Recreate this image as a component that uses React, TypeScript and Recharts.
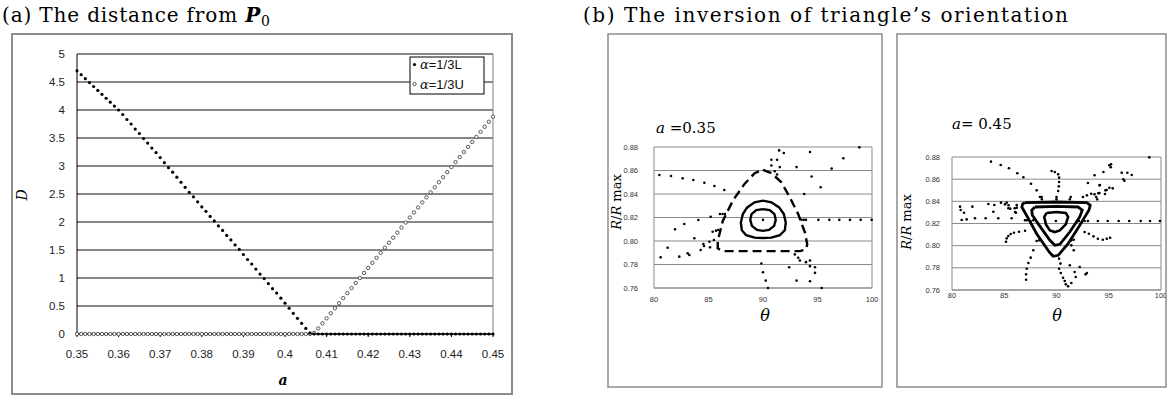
import React from 'react';
import { ScatterChart, Scatter, XAxis, YAxis, CartesianGrid, ReferenceLine } from 'recharts';

// ---------- panel (a): distance D against a ----------
const aValues = [
  0.35, 0.351, 0.352, 0.353, 0.354, 0.355, 0.356, 0.357, 0.358, 0.359,
  0.36, 0.361, 0.362, 0.363, 0.364, 0.365, 0.366, 0.367, 0.368, 0.369,
  0.37, 0.371, 0.372, 0.373, 0.374, 0.375, 0.376, 0.377, 0.378, 0.379,
  0.38, 0.381, 0.382, 0.383, 0.384, 0.385, 0.386, 0.387, 0.388, 0.389,
  0.39, 0.391, 0.392, 0.393, 0.394, 0.395, 0.396, 0.397, 0.398, 0.399,
  0.4, 0.401, 0.402, 0.403, 0.404, 0.405, 0.406, 0.407, 0.408, 0.409,
  0.41, 0.411, 0.412, 0.413, 0.414, 0.415, 0.416, 0.417, 0.418, 0.419,
  0.42, 0.421, 0.422, 0.423, 0.424, 0.425, 0.426, 0.427, 0.428, 0.429,
  0.43, 0.431, 0.432, 0.433, 0.434, 0.435, 0.436, 0.437, 0.438, 0.439,
  0.44, 0.441, 0.442, 0.443, 0.444, 0.445, 0.446, 0.447, 0.448, 0.449,
  0.45,
];

// alpha = 1/3 L (filled dots)
const distL = [
  4.7, 4.63, 4.56, 4.49, 4.42, 4.35, 4.28, 4.21, 4.14, 4.07,
  4.0, 3.92, 3.83, 3.75, 3.66, 3.58, 3.49, 3.41, 3.32, 3.24,
  3.15, 3.06, 2.97, 2.89, 2.8, 2.71, 2.62, 2.53, 2.45, 2.36,
  2.27, 2.19, 2.1, 2.02, 1.93, 1.85, 1.76, 1.68, 1.59, 1.51,
  1.42, 1.33, 1.25, 1.16, 1.07, 0.99, 0.9, 0.81, 0.73, 0.64,
  0.55, 0.46, 0.37, 0.28, 0.19, 0.1, 0.02, 0, 0, 0,
  0, 0, 0, 0, 0, 0, 0, 0, 0, 0,
  0, 0, 0, 0, 0, 0, 0, 0, 0, 0,
  0, 0, 0, 0, 0, 0, 0, 0, 0, 0,
  0, 0, 0, 0, 0, 0, 0, 0, 0, 0,
  0,
];

// alpha = 1/3 U (open circles)
const distU = [
  0, 0, 0, 0, 0, 0, 0, 0, 0, 0,
  0, 0, 0, 0, 0, 0, 0, 0, 0, 0,
  0, 0, 0, 0, 0, 0, 0, 0, 0, 0,
  0, 0, 0, 0, 0, 0, 0, 0, 0, 0,
  0, 0, 0, 0, 0, 0, 0, 0, 0, 0,
  0, 0, 0, 0, 0, 0, 0, 0.02, 0.1, 0.19,
  0.28, 0.37, 0.46, 0.55, 0.64, 0.73, 0.82, 0.91, 1.0, 1.09,
  1.18, 1.27, 1.36, 1.45, 1.54, 1.63, 1.72, 1.81, 1.9, 1.99,
  2.08, 2.17, 2.26, 2.35, 2.44, 2.53, 2.62, 2.71, 2.8, 2.89,
  2.98, 3.07, 3.16, 3.25, 3.34, 3.43, 3.52, 3.61, 3.7, 3.79,
  3.88,
];

const aTicks = [0.35, 0.36, 0.37, 0.38, 0.39, 0.4, 0.41, 0.42, 0.43, 0.44, 0.45];
const dTicks = [0, 0.5, 1, 1.5, 2, 2.5, 3, 3.5, 4, 4.5, 5];

// ---------- panel (b): sections, theta vs R/Rmax ----------
const thetaTicks = [80, 85, 90, 95, 100];
const ratioTicks = [0.76, 0.78, 0.8, 0.82, 0.84, 0.86, 0.88];

// a = 0.35
const dots035: [number, number][] = [
  [80.49, 0.8562], [81.56, 0.8553], [82.63, 0.8533], [83.61, 0.8519], [84.62, 0.8496], [85.54, 0.8468], [86.45, 0.8434],
  [81.93, 0.8099], [82.78, 0.8145], [84.07, 0.8179], [85.2, 0.8207], [86.05, 0.823], [86.3, 0.823], [86.51, 0.823],
  [81.25, 0.7943], [80.61, 0.7861], [82.32, 0.7867], [83.09, 0.7895], [83.24, 0.7881], [83.7, 0.8023], [84.28, 0.7923],
  [84.59, 0.7957], [84.53, 0.7975], [85.14, 0.7946], [85.08, 0.7994], [85.5, 0.8009], [85.38, 0.8079], [85.69, 0.8088], [85.9, 0.8094],
  [91.48, 0.8771], [91.91, 0.8749], [94.31, 0.8757], [90.77, 0.8691], [91.29, 0.8691], [93.08, 0.8629], [90.77, 0.8643],
  [91.08, 0.8594], [91.54, 0.8629], [91.29, 0.8566],
  [93.78, 0.84], [95.29, 0.8457], [94.46, 0.8549], [96.3, 0.8616], [97.37, 0.8704], [98.84, 0.8797],
  [90, 0.818], [93.54, 0.818], [93.74, 0.818], [93.94, 0.818], [95.08, 0.818], [96.09, 0.818], [97.0, 0.818],
  [97.98, 0.818], [98.96, 0.818], [99.97, 0.818],
  [89.85, 0.7809], [90.0, 0.7734], [90.25, 0.7663], [90.46, 0.76], [92.4, 0.7777], [93.08, 0.7663], [92.92, 0.7886],
  [93.23, 0.7857], [93.38, 0.7834], [93.94, 0.782], [94.31, 0.7834], [94.31, 0.7786], [94.77, 0.7777], [94.77, 0.7729],
  [94.31, 0.7657], [95.38, 0.76],
];

const innerLoop035: [number, number][] = [
  [90, 0.8271], [90.62, 0.8263], [91.05, 0.8229], [91.17, 0.818], [91.02, 0.8129], [90.55, 0.8094], [90, 0.8086],
  [89.45, 0.8094], [88.98, 0.8129], [88.83, 0.818], [88.95, 0.8229], [89.38, 0.8263], [90, 0.8271],
];

const midLoop035: [number, number][] = [
  [90, 0.8343], [90.77, 0.8329], [91.48, 0.8286], [91.91, 0.8229], [92.09, 0.8157], [92.0, 0.8091], [91.54, 0.8049],
  [90.77, 0.8029], [90, 0.8026], [89.23, 0.8029], [88.46, 0.8049], [88.06, 0.8091], [87.97, 0.8157], [88.15, 0.8229],
  [88.55, 0.8286], [89.23, 0.8329], [90, 0.8343],
];

const dashedLoop035: [number, number][] = [
  [90, 0.8606], [90.77, 0.8577], [91.69, 0.85], [92.46, 0.8371], [93.23, 0.8229], [93.85, 0.8071], [94.06, 0.7971],
  [93.94, 0.7929], [93.38, 0.7914], [90, 0.7914], [86.31, 0.7914], [85.85, 0.7937], [85.85, 0.8], [86.31, 0.8171],
  [87.23, 0.8343], [88.31, 0.8486], [89.23, 0.8577], [90, 0.8606],
];

// a = 0.45
const dots045: [number, number][] = [
  [83.73, 0.8758], [84.66, 0.8728], [85.45, 0.8698], [86.25, 0.8653], [86.83, 0.8617], [87.56, 0.8559], [88.1, 0.8499], [88.58, 0.8439],
  [89.53, 0.8674], [89.84, 0.8665], [90.16, 0.8644], [90.25, 0.8614], [90.25, 0.8574], [90.22, 0.8535], [90.16, 0.8493],
  [80.77, 0.8352], [80.83, 0.8322], [81.15, 0.8297], [80.93, 0.8231], [81.4, 0.8237], [81.95, 0.8352], [82.2, 0.8247],
  [83.22, 0.8247], [83.48, 0.8376], [84.05, 0.8367], [83.96, 0.8306], [84.43, 0.8247], [84.69, 0.8388], [85.07, 0.8373],
  [85.23, 0.8388], [85.39, 0.8337], [85.71, 0.8247], [86.0, 0.8337], [86.19, 0.8367], [86.12, 0.8297], [85.41, 0.8364],
  [85.57, 0.8334], [86.04, 0.8304], [86.2, 0.8343], [86.99, 0.8229], [87.15, 0.8229],
  [85.17, 0.8036], [85.23, 0.8066], [85.39, 0.8087], [85.62, 0.8105], [85.93, 0.8117], [86.41, 0.8126], [86.99, 0.8135],
  [87.78, 0.7958], [87.53, 0.7892], [87.31, 0.7844], [87.15, 0.7792], [87.09, 0.7741], [87.09, 0.7693],
  [90.25, 0.7883], [90.38, 0.7838], [90.25, 0.7792], [90.41, 0.7753], [90.63, 0.7711], [90.79, 0.7681], [90.89, 0.7651],
  [91.11, 0.7633], [91.42, 0.7663],
  [91.27, 0.7823], [91.74, 0.7762], [91.84, 0.7717], [92.22, 0.7808], [92.78, 0.7741], [92.91, 0.7753], [91.65, 0.7958], [91.42, 0.8003],
  [92.69, 0.8123], [93.1, 0.8108], [93.54, 0.8084], [93.96, 0.8063], [94.43, 0.8054], [94.81, 0.8063], [95.13, 0.8072],
  [89.94, 0.8223], [92.69, 0.8223], [93.0, 0.8223], [93.96, 0.8223], [94.9, 0.8223], [95.95, 0.8223], [96.96, 0.8223],
  [98.06, 0.8223], [98.95, 0.8223], [99.9, 0.8223],
  [93.01, 0.8565], [93.64, 0.8635], [94.11, 0.8544], [94.68, 0.8499], [95.06, 0.8523], [94.49, 0.8665], [95.06, 0.8725],
  [95.22, 0.8734], [95.19, 0.8707], [96.24, 0.8658], [96.78, 0.8658], [97.2, 0.8638], [96.4, 0.8599], [96.49, 0.8586],
  [95.38, 0.8517], [94.8, 0.8502], [94.16, 0.8547], [98.88, 0.8797],
  [92.53, 0.8439], [92.91, 0.8454], [93.32, 0.8469], [93.64, 0.8463], [93.8, 0.8439], [94.11, 0.8475], [94.64, 0.8466],
  [94.0, 0.8472], [93.9, 0.8418],
  [88.42, 0.8439], [88.6, 0.8418], [90, 0.8439], [90, 0.8418], [91.36, 0.8439], [91.27, 0.8418], [87.78, 0.8229],
  [87.53, 0.822], [88.35, 0.8048], [88.1, 0.8042], [91.42, 0.8048], [91.65, 0.8054], [91.9, 0.8214], [92.15, 0.8223],
];

const outerLoop045: [number, number][] = [
  [86.99, 0.8388], [90, 0.8394], [92.91, 0.8388], [93.23, 0.8364], [93.1, 0.8319], [92.22, 0.8183], [91.11, 0.8018],
  [90.16, 0.7913], [89.68, 0.7904], [89.3, 0.7943], [88.1, 0.8108], [87.31, 0.8244], [86.68, 0.8349], [86.77, 0.8379],
  [86.99, 0.8388],
];

const midLoop045: [number, number][] = [
  [87.94, 0.8349], [90, 0.8355], [92.06, 0.8349], [92.47, 0.8319], [92.22, 0.8259], [91.27, 0.8123], [90.32, 0.8012],
  [89.84, 0.8003], [89.37, 0.8048], [88.42, 0.8174], [87.69, 0.8274], [87.63, 0.8319], [87.94, 0.8349],
];

const innerLoop045: [number, number][] = [
  [89.05, 0.8295], [90, 0.8304], [90.89, 0.8295], [91.11, 0.8259], [90.89, 0.8192], [90.32, 0.8138], [89.84, 0.8123],
  [89.37, 0.8138], [88.99, 0.8192], [88.83, 0.8259], [89.05, 0.8295],
];

const serif = '"DejaVu Serif", "Liberation Serif", serif';
const sans = '"Liberation Sans", Arial, sans-serif';

const filledDot = (p: any) => <circle cx={p.cx} cy={p.cy} r={1.6} fill="#000" />;
const openDot = (p: any) => <circle cx={p.cx} cy={p.cy} r={1.7} fill="#fff" stroke="#333" strokeWidth={0.8} />;
const smallDot = (p: any) => <circle cx={p.cx} cy={p.cy} r={1.3} fill="#000" />;
const noDot = () => <g />;

const toXY = (pts: [number, number][]) => pts.map(([x, y]) => ({ x, y }));

interface OrbitProps {
  left: number;
  top: number;
  width: number;
  height: number;
  margin: { top: number; right: number; bottom: number; left: number };
  yAxisWidth: number;
  yTickMargin: number;
  xTickMargin: number;
  dots: [number, number][];
  loops: { pts: [number, number][]; dash?: string; width: number }[];
}

const OrbitChart: React.FC<OrbitProps> = ({ left, top, width, height, margin, yAxisWidth, yTickMargin, xTickMargin, dots, loops }) => (
  <div style={{ position: 'absolute', left, top }}>
    <ScatterChart width={width} height={height} margin={margin}>
      <CartesianGrid vertical={false} stroke="#8a8a8a" />
      <XAxis
        type="number"
        dataKey="x"
        domain={[80, 100]}
        ticks={thetaTicks}
        interval={0}
        height={20}
        stroke="#8a8a8a"
        tickLine={false}
        tickSize={0}
        tickMargin={xTickMargin}
        tick={{ fontSize: 7.5, fill: '#333', fontFamily: sans }}
      />
      <YAxis
        type="number"
        dataKey="y"
        domain={[0.76, 0.88]}
        ticks={ratioTicks}
        interval={0}
        width={yAxisWidth}
        stroke="#8a8a8a"
        tickLine={false}
        tickSize={0}
        tickMargin={yTickMargin}
        tickFormatter={(v: number) => v.toFixed(2)}
        tick={{ fontSize: 7.5, fill: '#333', fontFamily: sans }}
      />
      <ReferenceLine x={100} stroke="#8a8a8a" />
      <Scatter data={toXY(dots)} shape={smallDot} isAnimationActive={false} />
      {loops.map((l, i) => (
        <Scatter
          key={i}
          data={toXY(l.pts)}
          shape={noDot}
          line={{ stroke: '#000', strokeWidth: l.width, strokeDasharray: l.dash, fill: 'none' }}
          isAnimationActive={false}
        />
      ))}
    </ScatterChart>
  </div>
);

export default function App() {
  const seriesL = aValues.map((a, i) => ({ a, d: distL[i] }));
  const seriesU = aValues.map((a, i) => ({ a, d: distU[i] }));

  return (
    <div style={{ position: 'absolute', left: 0, top: 0, width: 1168, height: 398, background: '#fff', overflow: 'hidden' }}>
      {/* panel (a) */}
      <div style={{ position: 'absolute', left: 12, top: 34 }}>
        <ScatterChart width={500} height={360} margin={{ top: 20, right: 19, bottom: 30, left: 20 }}>
          <CartesianGrid vertical={false} stroke="#111" />
          <XAxis
            type="number"
            dataKey="a"
            domain={[0.35, 0.45]}
            ticks={aTicks}
            interval={0}
            height={30}
            stroke="#000"
            tickSize={3}
            tickMargin={13}
            tick={{ fontSize: 11.5, fill: '#222', fontFamily: sans }}
          />
          <YAxis
            type="number"
            dataKey="d"
            domain={[0, 5]}
            ticks={dTicks}
            interval={0}
            width={45}
            stroke="#000"
            tickLine={false}
            tickSize={0}
            tickMargin={12}
            tick={{ fontSize: 11.5, fill: '#222', fontFamily: sans }}
          />
          <ReferenceLine x={0.45} stroke="#808080" />
          <Scatter data={seriesU} shape={openDot} isAnimationActive={false} />
          <Scatter data={seriesL} shape={filledDot} isAnimationActive={false} />
        </ScatterChart>
      </div>

      {/* panel (b) */}
      <OrbitChart
        left={608}
        top={34}
        width={274}
        height={353}
        margin={{ top: 113, right: 10, bottom: 79, left: 6 }}
        yAxisWidth={40}
        yTickMargin={16}
        xTickMargin={9}
        dots={dots035}
        loops={[
          { pts: dashedLoop035, dash: '9 5', width: 2.4 },
          { pts: midLoop035, width: 2.4 },
          { pts: innerLoop035, width: 2.4 },
        ]}
      />
      <OrbitChart
        left={897}
        top={34}
        width={269}
        height={353}
        margin={{ top: 123, right: 5, bottom: 77, left: 10 }}
        yAxisWidth={45}
        yTickMargin={12}
        xTickMargin={3}
        dots={dots045}
        loops={[
          { pts: outerLoop045, width: 2.8 },
          { pts: midLoop045, width: 2.8 },
          { pts: innerLoop045, width: 2.6 },
        ]}
      />

      {/* titles, frames, labels, legend */}
      <svg width={1168} height={398} style={{ position: 'absolute', left: 0, top: 0, pointerEvents: 'none' }}>
        <rect x={12} y={34} width={500} height={360} fill="none" stroke="#8c8c8c" strokeWidth={2} />
        <rect x={608} y={34} width={274} height={353} fill="none" stroke="#8c8c8c" strokeWidth={1.5} />
        <rect x={897} y={34} width={269} height={353} fill="none" stroke="#8c8c8c" strokeWidth={1.5} />

        <text x={2} y={22} fontFamily={serif} fontSize={20} textLength={268} lengthAdjust="spacing" fill="#000">
          (a) The distance from <tspan fontWeight="bold" fontStyle="italic">P</tspan>
          <tspan fontSize={14} dy={4}>0</tspan>
        </text>
        <text x={583} y={22} fontFamily={serif} fontSize={20} textLength={485} lengthAdjust="spacing" fill="#000">
          (b) The inversion of triangle’s orientation
        </text>

        <text transform="translate(27,195) rotate(-90)" textAnchor="middle" fontFamily={serif} fontStyle="italic" fontSize={14}>D</text>
        <text x={283} y={385} textAnchor="middle" fontFamily={serif} fontStyle="italic" fontWeight="bold" fontSize={14}>a</text>

        <rect x={410} y={57} width={74} height={37} fill="#fff" stroke="#000" strokeWidth={1} />
        <circle cx={414.5} cy={64.5} r={1.6} fill="#000" />
        <text x={420} y={69} fontSize={13} fontFamily={sans} fill="#111">
          <tspan fontFamily={serif} fontStyle="italic">α</tspan>=1/3L
        </text>
        <circle cx={414.5} cy={84} r={1.7} fill="#fff" stroke="#333" strokeWidth={0.8} />
        <text x={420} y={88.5} fontSize={13} fontFamily={sans} fill="#111">
          <tspan fontFamily={serif} fontStyle="italic">α</tspan>=1/3U
        </text>

        <text x={656} y={133} fontFamily={serif} fontSize={15}>
          <tspan fontStyle="italic">a</tspan> =0.35
        </text>
        <text x={952} y={129} fontFamily={serif} fontSize={15}>
          <tspan fontStyle="italic">a</tspan>= 0.45
        </text>

        <text transform="translate(621,202) rotate(-90)" textAnchor="middle" fontFamily={serif} fontSize={13}>
          <tspan fontStyle="italic">R</tspan>/<tspan fontStyle="italic">R</tspan> max
        </text>
        <text transform="translate(911,222) rotate(-90)" textAnchor="middle" fontFamily={serif} fontSize={13}>
          <tspan fontStyle="italic">R</tspan>/<tspan fontStyle="italic">R</tspan> max
        </text>

        <text x={765} y={321} textAnchor="middle" fontFamily={serif} fontStyle="italic" fontSize={16}>θ</text>
        <text x={1057} y={321} textAnchor="middle" fontFamily={serif} fontStyle="italic" fontSize={16}>θ</text>
      </svg>
    </div>
  );
}
